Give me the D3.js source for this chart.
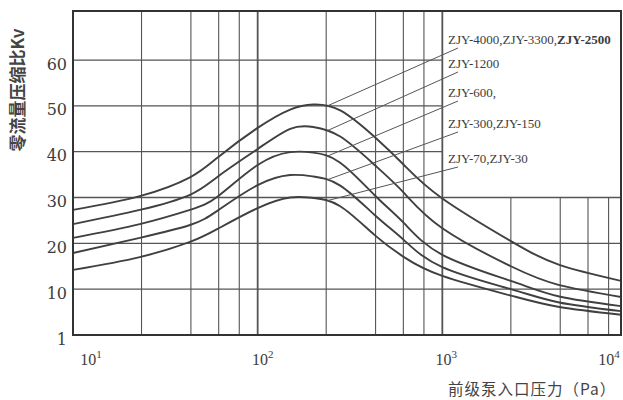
<!DOCTYPE html>
<html>
<head>
<meta charset="utf-8">
<script src="https://cdn.jsdelivr.net/npm/d3@7"></script>
<style>
body { margin: 0; background: #fff; }
svg { display: block; }
</style>
</head>
<body>
<svg width="623" height="400"></svg>
<script>
// foreline pump inlet pressure (Pa)
var pressure = [10, 23, 43, 61, 100, 150, 200, 280, 430, 620, 1000, 2350, 4300, 9300];

// zero-flow compression ratio Kv for each pump group
var kvZJY4000 = [27.3, 30.3, 34.4, 38.8, 45.2, 49.2, 50.3, 49.0, 43.2, 37.1, 29.8, 20.5, 15.3, 11.8];
var kvZJY1200 = [24.2, 27.3, 30.6, 34.6, 40.6, 45.0, 45.4, 43.3, 37.1, 31.0, 23.3, 15.0, 10.9, 8.3];
var kvZJY600 = [21.2, 24.2, 27.3, 30.3, 37.1, 39.9, 39.8, 37.6, 30.5, 24.4, 17.5, 11.8, 8.4, 6.3];
var kvZJY300 = [17.9, 21.2, 24.0, 27.2, 32.7, 34.9, 34.6, 32.6, 26.2, 20.7, 14.8, 10.0, 7.1, 5.2];
var kvZJY70 = [14.2, 17.0, 20.3, 23.2, 27.7, 30.0, 29.9, 28.1, 21.8, 17.0, 12.9, 8.6, 6.1, 4.4];

var seriesNames = ["ZJY-4000,ZJY-3300,ZJY-2500", "ZJY-1200", "ZJY-600,", "ZJY-300,ZJY-150", "ZJY-70,ZJY-30"];
var yTicks = [0, 10, 20, 30, 40, 50, 60];
var yTickLabels = ["1", "10", "20", "30", "40", "50", "60"];
var xDecades = [10, 100, 1000, 10000];
var xDecadeExp = ["1", "2", "3", "4"];
var xMinorSteps = [2.35, 4.35, 6.15, 7.95]; // the scan's minor grid is not at 2,4,6,8
var leaderPressure = 240; // leaders to the labels leave the curves here

var allSeries = [kvZJY4000, kvZJY1200, kvZJY600, kvZJY300, kvZJY70];

var svg = d3.select("svg"),
    pLeft = 73, pTop = 11, pRight = 621, pBottom = 335;

var x = d3.scaleLog().domain([10, 10000]).range([pLeft, 627]),
    y = d3.scaleLinear().domain([0, 70.7]).range([pBottom, pTop]);

var ink = "#3c3c3c";

svg.append("rect").attr("width", 623).attr("height", 400).attr("fill", "#fff");

svg.append("clipPath").attr("id", "plot")
    .append("rect")
    .attr("x", pLeft).attr("y", pTop)
    .attr("width", pRight - pLeft).attr("height", pBottom - pTop);

var g = svg.append("g").attr("clip-path", "url(#plot)");

// vertical grid: minor lines per decade plus the decade lines
var vLines = [];
xDecades.slice(0, 3).forEach(function (d) {
    xMinorSteps.forEach(function (m) { vLines.push({ v: d * m, major: false }); });
});
vLines.push({ v: 100, major: true }, { v: 1000, major: true });

g.selectAll(".vgrid")
    .data(vLines)
    .enter().append("line")
    .attr("class", "vgrid")
    .attr("x1", function (d) { return x(d.v); })
    .attr("x2", function (d) { return x(d.v); })
    .attr("y1", function (d) { return d.v > 1000 ? y(30) : pTop; }) // legend box above 30
    .attr("y2", pBottom)
    .attr("stroke", "#555")
    .attr("stroke-width", function (d) { return d.major ? 1.8 : 1.1; });

g.selectAll(".hgrid")
    .data(yTicks.filter(function (d) { return d > 0; }))
    .enter().append("line")
    .attr("class", "hgrid")
    .attr("x1", pLeft)
    .attr("x2", function (d) { return d > 30 ? x(1000) : pRight; })
    .attr("y1", function (d) { return y(d); })
    .attr("y2", function (d) { return y(d); })
    .attr("stroke", "#555")
    .attr("stroke-width", 1.3);

// curves
var line = d3.line()
    .x(function (d) { return x(d[0]); })
    .y(function (d) { return y(d[1]); })
    .curve(d3.curveNatural);

var curves = g.selectAll(".curve")
    .data(allSeries)
    .enter().append("path")
    .attr("class", "curve")
    .attr("d", function (s) { return line(d3.zip(pressure, s)); })
    .attr("fill", "none")
    .attr("stroke", "#404040")
    .attr("stroke-width", 1.9);

// y of a drawn curve at a given screen x
function yOnPath(node, px) {
    var lo = 0, hi = node.getTotalLength();
    for (var k = 0; k < 30; k++) {
        var mid = (lo + hi) / 2;
        if (node.getPointAtLength(mid).x < px) lo = mid; else hi = mid;
    }
    return node.getPointAtLength(lo).y;
}

// frame
svg.append("rect")
    .attr("x", pLeft).attr("y", pTop)
    .attr("width", pRight - pLeft).attr("height", pBottom - pTop)
    .attr("fill", "none")
    .attr("stroke", "#333")
    .attr("stroke-width", 2);

// legend labels and leader lines
var labelX = 448,
    labelY = [39, 63, 92, 123, 158];

var curveNodes = curves.nodes();
svg.selectAll(".leader")
    .data(allSeries)
    .enter().append("line")
    .attr("class", "leader")
    .attr("x1", x(leaderPressure))
    .attr("y1", function (s, i) { return yOnPath(curveNodes[i], x(leaderPressure)); })
    .attr("x2", labelX + 10)
    .attr("y2", function (s, i) { return labelY[i] + 9; })
    .attr("stroke", "#555")
    .attr("stroke-width", 1);

var labels = svg.selectAll(".lbl")
    .data(seriesNames)
    .enter().append("text")
    .attr("class", "lbl")
    .attr("x", labelX)
    .attr("y", function (d, i) { return labelY[i]; })
    .attr("dy", "0.35em")
    .attr("font-family", "Liberation Serif")
    .attr("font-size", 13)
    .attr("fill", ink);

labels.each(function (d, i) {
    var t = d3.select(this);
    if (i === 0) {
        t.append("tspan").text("ZJY-4000,ZJY-3300,");
        t.append("tspan").attr("font-weight", "bold").text("ZJY-2500");
    } else {
        t.text(d);
    }
});

// y axis
svg.append("g")
    .attr("transform", "translate(" + pLeft + ",0)")
    .call(d3.axisLeft(y).tickValues(yTicks).tickSize(0).tickPadding(6)
        .tickFormat(function (d, i) { return yTickLabels[i]; }))
    .call(function (a) { a.select(".domain").remove(); })
    .selectAll("text")
    .attr("y", 4)
    .attr("font-family", "DejaVu Serif")
    .attr("font-size", 16)
    .attr("fill", ink);

// x axis labels, 10 with a superscript exponent
var xLabelShift = [18, 5, 4, -18];
var xl = svg.selectAll(".xl")
    .data(xDecades)
    .enter().append("text")
    .attr("class", "xl")
    .attr("x", function (d, i) { return x(d) + xLabelShift[i]; })
    .attr("y", 365)
    .attr("text-anchor", "middle")
    .attr("font-family", "Liberation Serif")
    .attr("font-size", 16)
    .attr("fill", ink);
xl.append("tspan").text("10");
xl.append("tspan")
    .attr("font-size", 11)
    .attr("dy", -7)
    .text(function (d, i) { return xDecadeExp[i]; });

// axis titles
svg.append("text")
    .attr("transform", "translate(24,90) rotate(-90)")
    .attr("text-anchor", "middle")
    .attr("font-family", "Noto Sans CJK SC")
    .attr("font-weight", "bold")
    .attr("font-size", 17)
    .attr("fill", "#444")
    .text("零流量压缩比Kv");

svg.append("text")
    .attr("x", 448)
    .attr("y", 395)
    .attr("font-family", "Noto Sans CJK SC")
    .attr("font-size", 15.5)
    .attr("letter-spacing", 1)
    .attr("fill", "#444")
    .text("前级泵入口压力（Pa）");
</script>
</body>
</html>
